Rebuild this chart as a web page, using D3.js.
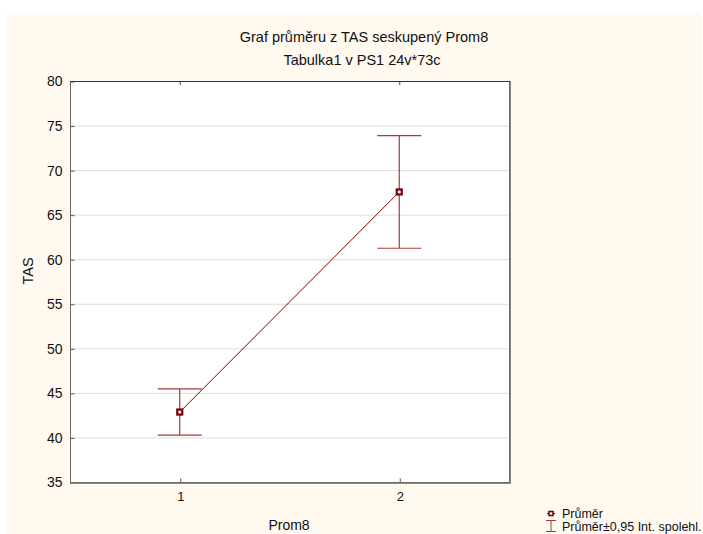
<!DOCTYPE html>
<html>
<head>
<meta charset="utf-8">
<script src="https://cdn.jsdelivr.net/npm/d3@7"></script>
<style>
  body { margin: 0; background: #fff; }
  text { font-family: "Liberation Sans", Arial, sans-serif; fill: #111; }
</style>
</head>
<body>
<div id="chart"></div>
<script>
// group means and 0.95 confidence limits
const groups = [1, 2];
const means = [42.85, 67.55];
const lower = [40.27, 61.23];
const upper = [45.44, 73.87];
const yTicks = [35, 40, 45, 50, 55, 60, 65, 70, 75, 80];

const W = 703, H = 534;
const margin = {left: 70, top: 81, right: 509, bottom: 482};
const darkRed = "#7a0000";
const barRed = "#a33a3a";

const svg = d3.select("#chart").append("svg")
    .attr("width", W).attr("height", H);

// cream background
svg.append("rect")
    .attr("x", 7).attr("y", 13)
    .attr("width", 694).attr("height", H - 13)
    .attr("fill", "#fff9ef");

let x = d3.scaleLinear().domain([0.5, 2.5]).range([margin.left, margin.right]);
let y = d3.scaleLinear().domain([35, 80]).range([margin.bottom, margin.top]);

// plot area
svg.append("rect")
    .attr("x", margin.left).attr("y", margin.top)
    .attr("width", margin.right - margin.left)
    .attr("height", margin.bottom - margin.top)
    .attr("fill", "#fff");

// gridlines
svg.selectAll("line.grid")
    .data(yTicks.slice(1, -1))
    .enter().append("line")
    .attr("class", "grid")
    .attr("x1", margin.left).attr("x2", margin.right)
    .attr("y1", d => y(d) + 0.5).attr("y2", d => y(d) + 0.5)
    .attr("stroke", "#dcdcdc");

// left axis
let yAxis = d3.axisLeft(y).tickValues(yTicks).tickSize(-4).tickPadding(8);
let gy = svg.append("g")
    .attr("transform", "translate(" + (margin.left + 0.5) + ",0.5)")
    .call(yAxis);
gy.select(".domain").remove();
gy.selectAll("line").attr("stroke", "#555");
gy.selectAll("text").attr("font-size", 14).attr("fill", "#111")
    .attr("font-family", "Liberation Sans, Arial, sans-serif");

// bottom axis
let xAxis = d3.axisBottom(x).tickValues(groups).tickSize(-4).tickPadding(9)
    .tickFormat(d3.format("d"));
let gx = svg.append("g")
    .attr("transform", "translate(0.5," + (margin.bottom + 0.5) + ")")
    .call(xAxis);
gx.select(".domain").remove();
gx.selectAll("line").attr("stroke", "#555");
gx.selectAll("text").attr("font-size", 13).attr("fill", "#111")
    .attr("font-family", "Liberation Sans, Arial, sans-serif");

// small ticks on the top edge
svg.selectAll("line.toptick")
    .data(groups)
    .enter().append("line")
    .attr("x1", d => x(d) + 0.5).attr("x2", d => x(d) + 0.5)
    .attr("y1", margin.top).attr("y2", margin.top + 4)
    .attr("stroke", "#555");

// frame
svg.append("rect")
    .attr("x", margin.left + 0.5).attr("y", margin.top + 0.5)
    .attr("width", margin.right - margin.left)
    .attr("height", margin.bottom - margin.top)
    .attr("fill", "none")
    .attr("stroke", "#6a6a6a");
svg.append("line")
    .attr("x1", margin.left).attr("x2", margin.right + 1)
    .attr("y1", margin.top + 0.5).attr("y2", margin.top + 0.5)
    .attr("stroke", "#333");
svg.append("path")
    .attr("d", "M" + (margin.right + 1.5) + "," + margin.top +
        "V" + (margin.bottom + 1.5) + "H" + margin.left)
    .attr("fill", "none")
    .attr("stroke", "#888");

// error bars
let bars = svg.selectAll("g.ebar")
    .data(groups)
    .enter().append("g")
    .attr("class", "ebar")
    .attr("stroke", barRed)
    .attr("stroke-width", 1.2);
bars.append("line")
    .attr("x1", d => x(d)).attr("x2", d => x(d))
    .attr("y1", (d, i) => y(upper[i])).attr("y2", (d, i) => y(lower[i]));
bars.append("line")
    .attr("x1", d => x(d) - 22).attr("x2", d => x(d) + 22)
    .attr("y1", (d, i) => y(upper[i])).attr("y2", (d, i) => y(upper[i]));
bars.append("line")
    .attr("x1", d => x(d) - 22).attr("x2", d => x(d) + 22)
    .attr("y1", (d, i) => y(lower[i])).attr("y2", (d, i) => y(lower[i]));

// mean line
let line = d3.line().x((d, i) => x(groups[i])).y(d => y(d));
svg.append("path")
    .datum(means)
    .attr("d", line)
    .attr("fill", "none")
    .attr("stroke", darkRed)
    .attr("stroke-width", 1);

// mean markers
svg.selectAll("rect.mean")
    .data(means)
    .enter().append("rect")
    .attr("class", "mean")
    .attr("x", (d, i) => x(groups[i]) - 2.5)
    .attr("y", d => y(d) - 2.5)
    .attr("width", 5).attr("height", 5)
    .attr("fill", "#fff")
    .attr("stroke", darkRed)
    .attr("stroke-width", 2.2);

// titles
svg.append("text")
    .attr("x", 364).attr("y", 42)
    .attr("text-anchor", "middle").attr("font-size", 14.5)
    .text("Graf průměru z TAS seskupený Prom8");
svg.append("text")
    .attr("x", 362).attr("y", 65)
    .attr("text-anchor", "middle").attr("font-size", 14.5)
    .text("Tabulka1 v PS1 24v*73c");

// axis titles
svg.append("text")
    .attr("transform", "translate(33,271) rotate(-90)")
    .attr("text-anchor", "middle").attr("font-size", 14.5)
    .text("TAS");
svg.append("text")
    .attr("x", 289).attr("y", 530)
    .attr("text-anchor", "middle").attr("font-size", 14)
    .text("Prom8");

// legend
let lg = svg.append("g").attr("transform", "translate(551,0)");
lg.append("line")
    .attr("x1", -4).attr("x2", 4).attr("y1", 513.5).attr("y2", 513.5)
    .attr("stroke", darkRed);
lg.append("rect")
    .attr("x", -2).attr("y", 511.5).attr("width", 4).attr("height", 4)
    .attr("fill", "#fff").attr("stroke", darkRed).attr("stroke-width", 1.6);
lg.append("text").attr("x", 11).attr("y", 518).attr("font-size", 12.5).text("Průměr");
lg.append("path")
    .attr("d", "M-5,520.5H5M0,520.5V531.5M-5,531.5H5")
    .attr("fill", "none").attr("stroke", barRed);
lg.append("text").attr("x", 11).attr("y", 531).attr("font-size", 12.5)
    .text("Průměr±0,95 Int. spolehl.");
</script>
</body>
</html>
